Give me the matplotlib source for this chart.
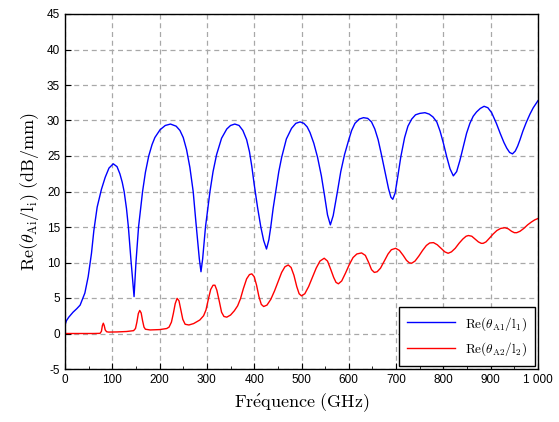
import matplotlib
matplotlib.use("Agg")
import matplotlib.pyplot as plt
from matplotlib.ticker import MultipleLocator, FuncFormatter

plt.rcParams['mathtext.fontset'] = 'cm'

# Blue series: Re(theta_A1 / l1)
freq_a1 = [0, 3, 8, 17, 25, 32, 42, 49, 56, 61, 68, 77, 85, 93, 102, 110, 116, 121, 125, 130, 134, 139.5, 146,
           150, 155.5, 164, 170, 177, 184, 190, 201, 212, 223, 235, 243, 250, 257, 264, 271, 277, 284, 287.5,
           291, 297, 306.5, 313, 320.5, 331, 342, 350, 359, 368, 376, 384, 390, 395, 400, 407, 414, 420, 426,
           431, 435, 440, 446, 452, 458, 468, 479, 488, 497, 505, 512, 518, 526, 534, 542, 549, 555, 561,
           567, 576, 583, 591, 600, 606, 613, 622, 631, 640, 648, 655, 662, 668, 675, 684, 689, 693,
           698, 704, 710, 718, 725, 733, 741, 750, 761, 770, 778, 786, 793, 800, 807, 814, 821,
           828, 835, 842, 849, 856, 863, 870, 878, 886, 894, 902, 912, 920, 928, 934, 940, 946,
           952, 957, 962, 968, 975, 983, 990, 1000]
re_a1 = [1.2, 1.8, 2.3, 3.0, 3.5, 4.0, 5.7, 8.0, 11.3, 14.5, 17.8, 20.3, 22.0, 23.3, 23.9, 23.5, 22.5, 21.3, 20.0, 17.6, 15.0, 10.3, 5.2,
         10.0, 15.0, 20.0, 22.7, 25.0, 26.6, 27.6, 28.7, 29.3, 29.5, 29.2, 28.6, 27.6, 25.9, 23.4, 20.0, 15.5, 10.5, 8.7,
         10.5, 15.0, 20.0, 22.8, 25.2, 27.5, 28.8, 29.3, 29.5, 29.3, 28.6, 27.3, 25.6, 23.5, 21.0, 17.8, 15.0, 13.1, 11.9,
         13.2, 15.0, 17.6, 20.2, 22.8, 24.8, 27.4, 28.9, 29.6, 29.8, 29.6, 29.1, 28.3, 26.8, 24.8, 22.2, 19.3, 16.7, 15.3,
         16.6, 20.0, 22.8, 25.2, 27.3, 28.6, 29.6, 30.2, 30.4, 30.3, 29.8, 28.8, 27.3, 25.5, 23.3, 20.4, 19.2, 18.9,
         19.8, 22.3, 24.9, 27.6, 29.2, 30.2, 30.8, 31.0, 31.1, 30.9, 30.5, 29.8, 28.5, 26.8, 24.9, 23.2, 22.2,
         22.8, 24.4, 26.3, 28.2, 29.6, 30.6, 31.2, 31.7, 32.0, 31.8, 31.1, 29.6, 28.2, 26.9, 26.1, 25.5, 25.3,
         25.7, 26.4, 27.3, 28.5, 29.7, 30.9, 31.8, 32.8]

# Red series: Re(theta_A2 / l2)
freq_a2 = [0, 20, 40, 60, 74, 77, 79, 81, 83, 85, 88, 92, 110, 130, 145, 149, 152, 155, 158, 161, 164, 167, 170,
           180, 200, 215, 220, 225, 229, 233, 237, 241, 245, 249, 254, 262, 272, 285, 293, 298, 303, 308, 313,
           317, 321, 326, 331, 336, 342, 350, 358, 365, 371, 377, 384, 390, 395, 400, 405, 410, 415, 420,
           427, 435, 443, 451, 458, 465, 472, 478, 484, 490, 495, 500, 507, 515, 523, 531, 539, 548, 555,
           562, 568, 573, 578, 585, 593, 601, 609, 617, 627, 635, 642, 648, 654, 660, 667, 675, 683, 690,
           699, 707, 715, 722, 728, 733, 740, 748, 756, 764, 771, 779, 787, 795, 803, 810, 817, 825, 833,
           841, 848, 853, 860, 867, 874, 880, 884, 890, 897, 905, 913, 921, 930, 937, 944, 950, 955, 962,
           970, 978, 986, 993, 1000]
re_a2 = [0.0, 0.0, 0.0, 0.0, 0.02, 0.3, 1.1, 1.45, 1.1, 0.5, 0.25, 0.2, 0.22, 0.28, 0.4, 0.7, 1.6, 2.8, 3.25, 2.9, 1.8, 0.9, 0.6,
         0.5, 0.55, 0.7, 0.9, 1.6, 2.8, 4.2, 4.95, 4.6, 3.3, 2.0, 1.3, 1.2, 1.4, 1.9, 2.5, 3.3, 4.8, 6.2, 6.8,
         6.8, 6.1, 4.6, 3.0, 2.4, 2.3, 2.6, 3.2, 3.9, 4.9, 6.3, 7.7, 8.3, 8.4, 8.0, 6.8, 5.2, 4.1, 3.8,
         4.0, 4.8, 6.0, 7.4, 8.6, 9.4, 9.65, 9.3, 8.2, 6.6, 5.6, 5.3, 5.6, 6.6, 7.9, 9.2, 10.2, 10.6, 10.2,
         9.0, 7.9, 7.2, 7.0, 7.4, 8.5, 9.7, 10.7, 11.2, 11.35, 11.0, 10.0, 9.0, 8.6, 8.7, 9.2, 10.2, 11.2, 11.8,
         12.0, 11.7, 11.0, 10.3, 9.95, 9.9, 10.2, 10.9, 11.7, 12.4, 12.75, 12.8, 12.5, 12.0, 11.5, 11.3, 11.5, 12.0, 12.7,
         13.3, 13.7, 13.8, 13.7, 13.3, 12.9, 12.7, 12.7, 12.9, 13.4, 14.0, 14.5, 14.8, 14.9, 14.75, 14.4, 14.2, 14.2, 14.4,
         14.8, 15.3, 15.7, 16.0, 16.2]

label_a1 = r'$\mathrm{Re}(\theta_{\mathrm{A1}}/\mathrm{l}_1)$'
label_a2 = r'$\mathrm{Re}(\theta_{\mathrm{A2}}/\mathrm{l}_2)$'

fig = plt.figure(figsize=(5.59, 4.22), dpi=100)
ax = fig.add_axes([65/559, 1 - 369/422, (538-65)/559, (369-14)/422])

ax.plot(freq_a1, re_a1, color='#0000ff', lw=1.0, label=label_a1)
ax.plot(freq_a2, re_a2, color='#ff0000', lw=1.0, label=label_a2)

ax.set_xlim(0, 1000)
ax.set_ylim(-5, 45)
ax.xaxis.set_major_locator(MultipleLocator(100))
ax.xaxis.set_minor_locator(MultipleLocator(50))
ax.yaxis.set_major_locator(MultipleLocator(5))
ax.xaxis.set_major_formatter(FuncFormatter(lambda v, p: f"{int(v):,}".replace(",", " ")))
ax.yaxis.set_major_formatter(FuncFormatter(lambda v, p: f"{int(v)}"))
ax.tick_params(which='both', direction='in', labelsize=8.5, length=4)
ax.tick_params(which='minor', length=2.5)
for t in ax.get_xticklabels() + ax.get_yticklabels():
    t.set_fontfamily('Liberation Sans')

ax.grid(True, which='major', linestyle=(0, (4, 3)), color='#a8a8a8', lw=0.9)

for s in ax.spines.values():
    s.set_linewidth(1.0)
    s.set_color('black')

ax.set_xlabel(r'$\mathrm{Fr\acute{e}quence\ (GHz)}$', fontsize=13, labelpad=4)
ax.set_ylabel(r'$\mathrm{Re}(\theta_{\mathrm{Ai}}/\mathrm{l}_{\mathrm{i}})\ \mathrm{(dB/mm)}$', fontsize=13, labelpad=4)

leg = ax.legend(loc='lower right', fontsize=9.6, fancybox=False, framealpha=1,
                edgecolor='black', borderaxespad=0.2, handlelength=3.6, borderpad=0.6,
                labelspacing=0.6)
leg.get_frame().set_linewidth(1.0)

fig.savefig('out.png', dpi=100)
